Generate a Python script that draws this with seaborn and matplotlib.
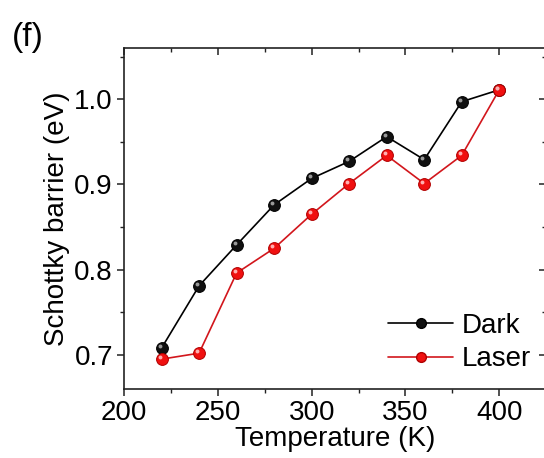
import matplotlib
matplotlib.use("Agg")
import matplotlib.pyplot as plt
import matplotlib.transforms as mtransforms
import seaborn as sns
import pandas as pd
from matplotlib.lines import Line2D
from matplotlib.ticker import MultipleLocator, FormatStrFormatter

temperature = [220, 240, 260, 280, 300, 320, 340, 360, 380, 400]
barrier_dark = [0.708, 0.781, 0.829, 0.876, 0.907, 0.927, 0.956, 0.929, 0.997, 1.011]
barrier_laser = [0.695, 0.702, 0.796, 0.825, 0.865, 0.901, 0.934, 0.901, 0.934, 1.011]
series_names = ["Dark", "Laser"]

sns.set_style("ticks")
plt.rcParams["font.family"] = ["Liberation Sans", "DejaVu Sans"]
plt.rcParams["text.color"] = "black"
plt.rcParams["axes.labelcolor"] = "black"
plt.rcParams["xtick.color"] = "black"
plt.rcParams["ytick.color"] = "black"

fig = plt.figure(figsize=(5.44, 4.58), dpi=100)
ax = fig.add_axes([0.228, 0.1507, 0.776, 0.7445])

styles = {
    "Dark": dict(line="#000000", face="#101010", edge="#000000", shine="#9a9a9a"),
    "Laser": dict(line="#d2161c", face="#f01010", edge="#b00000", shine="#ffb0b0"),
}

for name, values in zip(series_names, [barrier_dark, barrier_laser]):
    st = styles[name]
    df = pd.DataFrame({"Temperature": temperature, "Barrier": values})
    sns.lineplot(data=df, x="Temperature", y="Barrier", ax=ax, color=st["line"],
                 linewidth=1.2, marker="o", markersize=8.5, markerfacecolor=st["face"],
                 markeredgecolor=st["edge"], markeredgewidth=0.7, zorder=3)
    # small glossy highlight on each marker
    shine = mtransforms.offset_copy(ax.transData, fig=fig, x=-1.4, y=1.4, units="points")
    ax.plot(temperature, values, ls="none", marker="o", markersize=2.8,
            color=st["shine"], markeredgewidth=0, transform=shine, zorder=4)

ax.set_xlim(200, 425)
ax.set_ylim(0.66, 1.06)
ax.xaxis.set_major_locator(MultipleLocator(50))
ax.xaxis.set_minor_locator(MultipleLocator(25))
ax.yaxis.set_major_locator(MultipleLocator(0.1))
ax.yaxis.set_minor_locator(MultipleLocator(0.05))
ax.yaxis.set_major_formatter(FormatStrFormatter("%.1f"))

ax.tick_params(axis="both", which="major", length=5, width=1.1, labelsize=20,
               color="#222222", pad=3)
ax.tick_params(axis="both", which="minor", length=3, width=1.0, color="#222222")
ax.tick_params(axis="x", which="both", top=False)
ax.tick_params(axis="y", which="both", right=False)

# mirrored inward ticks on the top and right
top = ax.secondary_xaxis("top")
top.xaxis.set_major_locator(MultipleLocator(50))
top.xaxis.set_minor_locator(MultipleLocator(25))
top.tick_params(which="major", direction="in", length=5, width=1.1, labeltop=False, color="#222222")
top.tick_params(which="minor", direction="in", length=3, width=1.0, color="#222222")
top.spines["top"].set_visible(False)
right = ax.secondary_yaxis("right")
right.yaxis.set_major_locator(MultipleLocator(0.1))
right.yaxis.set_minor_locator(MultipleLocator(0.05))
right.tick_params(which="major", direction="in", length=5, width=1.1, labelright=False, color="#222222")
right.tick_params(which="minor", direction="in", length=3, width=1.0, color="#222222")
right.spines["right"].set_visible(False)

for side in ["left", "bottom", "top", "right"]:
    ax.spines[side].set_linewidth(1.2)
    ax.spines[side].set_color("#222222")

ax.set_xlabel("Temperature (K)", fontsize=20, labelpad=0)
ax.set_ylabel("Schottky barrier (eV)", fontsize=20, labelpad=3)

handles = []
for name in series_names:
    st = styles[name]
    handles.append(Line2D([], [], color=st["line"], linewidth=1.2, marker="o", markersize=7,
                          markerfacecolor=st["face"], markeredgecolor=st["edge"]))
ax.legend(handles, series_names, loc="lower right", bbox_to_anchor=(1.003, 0.0),
          frameon=False, fontsize=20, handlelength=2.35, handletextpad=0.3,
          labelspacing=0.28, borderaxespad=0.2)

fig.text(0.022, 0.918, "(f)", fontsize=24, ha="left", va="center")

fig.savefig("out.png", dpi=100)
